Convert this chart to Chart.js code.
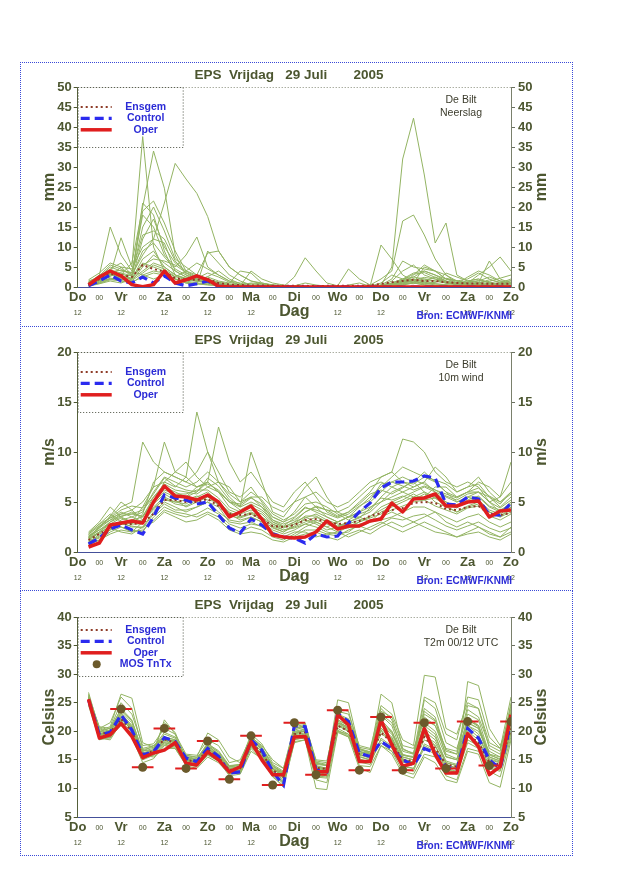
<!DOCTYPE html>
<html>
<head>
<meta charset="utf-8">
<title>EPS De Bilt</title>
<script src="https://cdn.jsdelivr.net/npm/chart.js@4.4.1/dist/chart.umd.min.js"></script>
<style>
    body { margin: 0; background: #fff; width: 640px; height: 880px; position: relative; overflow: hidden; }
    .frame { position: absolute; left: 20px; width: 553px; box-sizing: border-box; border: 1px dotted #3a4ad8; }
    .panel { position: absolute; left: 20px; width: 553px; height: 264px; }
</style>
</head>
<body>
<div class="frame" style="top:62px;height:265px"></div>
<div class="frame" style="top:326px;height:265px"></div>
<div class="frame" style="top:590px;height:266px"></div>
<div class="panel" style="top:62px"><canvas id="rain"></canvas></div>
<div class="panel" style="top:327px"><canvas id="wind"></canvas></div>
<div class="panel" style="top:592px"><canvas id="temp"></canvas></div>
<script>
"use strict";

// time axis in 12h units from Do 12 UTC (6-hourly values)
const steps = [0.5, 1, 1.5, 2, 2.5, 3, 3.5, 4, 4.5, 5, 5.5, 6, 6.5, 7, 7.5, 8, 8.5, 9, 9.5, 10,
    10.5, 11, 11.5, 12, 12.5, 13, 13.5, 14, 14.5, 15, 15.5, 16, 16.5, 17, 17.5, 18, 18.5, 19, 19.5, 20];
const dayNames = ["Do", "Vr", "Za", "Zo", "Ma", "Di", "Wo", "Do", "Vr", "Za", "Zo"];

// Neerslag (mm)
const rainOper = [0.5, 2.5, 4.0, 2.8, 0.6, 0.1, 0.6, 4.0, 1.0, 1.8, 2.8, 1.8, 0.2, 0, 0, 0, 0, 0, 0, 0,
    0, 0, 0, 0, 0, 0, 0, 0, 0, 0, 0, 0, 0, 0, 0, 0, 0, 0, 0, 0];
const rainControl = [0.3, 1.5, 3.0, 1.5, 1.0, 2.5, 1.0, 2.8, 1.0, 0.3, 0.8, 1.5, 0.2, 0, 0, 0, 0, 0, 0, 0,
    0, 0, 0, 0, 0, 0, 0, 0, 0, 0, 0, 0, 0, 0, 0, 0, 0, 0, 0, 0];
const rainMean = [0.8, 2.0, 3.3, 3.0, 2.5, 5.5, 4.5, 3.8, 2.2, 1.8, 1.8, 2.0, 1.0, 0.6, 0.5, 0.4, 0.4, 0.3, 0.3, 0.3,
    0.3, 0.2, 0.3, 0.3, 0.3, 0.3, 0.4, 0.8, 1.2, 1.5, 1.8, 1.5, 1.5, 1.2, 1.0, 0.9, 0.9, 0.8, 0.8, 0.8];
const rainMembers = [
    [1.0, 3.0, 15.0, 8.0, 4.0, 3.0, 2.0, 3.0, 2.0, 1.5, 1.0, 0.8, 0.5, 0.3, 0.2, 0.3, 0.5, 0.3, 0.2, 0.1, 0, 0, 0, 0, 0, 0.1, 0.2, 0.5, 5.0, 32.0, 42.2, 28.0, 11.0, 16.0, 3.0, 1.5, 1.0, 0.5, 0.8, 1.0],
    [0.5, 1.5, 3.0, 12.3, 5.0, 37.6, 10.0, 4.0, 2.0, 1.0, 0.8, 0.5, 0.3, 0.2, 0.1, 0.1, 0, 0, 0, 0, 0, 0.1, 0.2, 0.1, 0, 0, 0.5, 2.0, 4.0, 16.5, 18.0, 13.0, 7.0, 3.0, 1.5, 0.8, 0.5, 0.3, 0.2, 0.3],
    [0.8, 2.0, 4.0, 3.0, 6.0, 20.0, 34.0, 24.7, 8.0, 3.0, 1.5, 1.0, 0.5, 0.3, 0.5, 1.0, 0.8, 0.3, 0.1, 0, 0, 0, 0, 0, 0, 0, 0, 0.3, 0.8, 1.5, 2.5, 4.0, 3.0, 2.0, 1.5, 2.0, 3.5, 2.0, 1.0, 2.0],
    [0.3, 1.0, 2.0, 2.5, 3.0, 8.0, 12.0, 21.0, 30.9, 27.0, 23.4, 17.6, 9.0, 5.0, 3.0, 1.5, 0.8, 0.5, 0.3, 0.2, 0.1, 0, 0, 0, 0, 0, 0, 0.2, 0.5, 1.0, 1.5, 1.0, 0.8, 0.5, 0.3, 0.5, 0.8, 0.5, 0.3, 0.5],
    [1.5, 2.5, 5.0, 4.0, 3.5, 18.0, 15.0, 8.0, 5.0, 8.0, 12.5, 5.0, 3.0, 1.5, 1.0, 0.8, 0.5, 0.2, 0.1, 0, 0, 0, 0, 0, 0, 0, 0.2, 1.0, 3.0, 2.0, 1.0, 5.0, 4.0, 3.0, 1.0, 0.5, 1.0, 6.5, 2.0, 1.0],
    [0.2, 0.8, 1.5, 1.0, 2.0, 12.0, 17.0, 10.0, 6.0, 4.0, 3.0, 8.5, 9.0, 5.0, 3.0, 1.5, 1.0, 0.5, 0.3, 0.2, 0.1, 0, 0, 0, 0, 0, 0, 0.1, 0.3, 0.5, 1.0, 0.5, 0.3, 0.2, 0.5, 1.0, 3.0, 5.0, 7.5, 4.0],
    [1.2, 2.2, 3.5, 2.0, 1.5, 5.0, 8.0, 6.0, 4.0, 2.5, 2.0, 2.5, 1.5, 1.0, 4.0, 3.5, 1.0, 0.5, 0.3, 0.2, 0.1, 0, 0, 0, 0, 0, 0.3, 10.5, 7.0, 3.0, 1.5, 2.0, 1.5, 1.0, 0.8, 2.5, 4.0, 3.0, 1.5, 1.5],
    [0.6, 1.8, 2.5, 5.0, 2.5, 21.0, 18.0, 9.0, 3.0, 2.0, 1.5, 1.0, 0.8, 0.5, 0.3, 0.2, 0.1, 0, 0, 0, 0, 0, 0, 0, 0, 0, 0, 0.5, 2.0, 6.5, 5.0, 4.5, 4.0, 2.0, 1.0, 0.5, 0.3, 0.5, 1.0, 0.5],
    [0.4, 1.2, 2.8, 3.5, 2.0, 6.0, 5.0, 4.0, 2.5, 4.0, 6.0, 4.5, 3.0, 1.5, 0.5, 0.2, 0.1, 0, 0, 0.3, 1.0, 0.5, 0.2, 0, 0.5, 1.0, 0.2, 0, 0.2, 0.5, 3.0, 5.5, 4.0, 2.0, 1.5, 1.0, 1.5, 2.5, 1.5, 0.8],
    [0.9, 2.5, 4.5, 6.0, 3.0, 15.0, 20.0, 14.0, 7.0, 5.0, 3.0, 2.0, 1.0, 0.5, 0.3, 4.0, 2.0, 1.0, 0.5, 0.2, 0.1, 0, 0, 0, 0, 0, 0, 0.2, 0.5, 1.0, 0.8, 1.5, 2.5, 1.5, 0.5, 0.3, 0.2, 0.3, 0.5, 0.3],
    [0.5, 1.5, 2.0, 1.5, 1.0, 3.0, 4.0, 3.5, 2.0, 1.0, 0.5, 9.0, 6.0, 3.0, 1.5, 0.5, 0.3, 0.2, 0.1, 2.5, 7.3, 4.0, 1.0, 0.3, 0, 0, 0, 0.3, 0.8, 1.2, 2.0, 1.5, 1.0, 3.5, 2.5, 1.5, 2.0, 1.0, 0.5, 1.0],
    [1.8, 3.5, 6.0, 5.0, 4.5, 10.0, 12.0, 11.0, 4.0, 2.5, 2.0, 1.5, 1.0, 0.5, 0.3, 0.2, 0, 0, 0, 0, 0, 0, 0, 0.3, 4.5, 2.0, 0.5, 0.2, 1.0, 2.0, 3.5, 4.0, 3.0, 1.5, 1.0, 1.5, 2.0, 1.0, 0.5, 0.8],
    [0.7, 1.6, 3.2, 2.5, 2.0, 7.0, 9.0, 5.0, 3.0, 2.0, 1.8, 1.2, 0.5, 0.2, 0.1, 0, 0, 0, 0, 0, 0, 0, 0, 0, 0, 0, 0.1, 0.3, 1.5, 4.0, 5.5, 3.0, 2.0, 1.0, 0.5, 0.3, 0.5, 0.8, 0.3, 0.2],
    [1.1, 2.8, 5.5, 4.5, 3.0, 19.0, 21.5, 16.0, 9.0, 4.0, 2.5, 2.0, 1.2, 0.8, 0.5, 0.3, 0.2, 0.1, 0, 0, 0, 0, 0, 0, 0, 0, 0, 0.1, 0.5, 1.0, 1.5, 1.0, 0.5, 0.3, 0.2, 0.1, 0.5, 1.0, 0.5, 0.3],
    [0.6, 1.8, 3.0, 2.5, 2.0, 4.0, 6.0, 5.0, 3.0, 2.2, 1.6, 1.2, 0.8, 0.4, 0.2, 0.1, 0, 0, 0, 0, 0, 0, 0, 0, 0, 0, 0.1, 0.4, 1.0, 2.0, 2.5, 2.0, 1.5, 1.0, 0.8, 1.2, 1.6, 1.2, 0.8, 1.0],
    [1.3, 2.6, 4.2, 3.5, 2.8, 9.0, 11.0, 7.5, 4.5, 3.0, 2.2, 3.5, 2.5, 1.2, 0.6, 0.4, 0.2, 0.1, 0, 0, 0, 0, 0, 0, 0, 0, 0, 0.2, 0.6, 1.2, 1.8, 2.4, 2.0, 1.4, 1.0, 0.8, 1.0, 1.8, 1.2, 0.8],
    [0.4, 1.2, 2.2, 2.0, 1.6, 3.5, 5.5, 4.5, 2.6, 1.8, 1.4, 2.6, 4.0, 2.0, 0.8, 0.3, 0.1, 0, 0, 0, 0, 0, 0, 0, 0, 0, 0, 0.1, 0.3, 0.8, 1.2, 0.8, 1.2, 2.2, 1.6, 0.8, 0.6, 0.4, 0.6, 1.6],
    [1.0, 2.2, 3.8, 4.2, 3.6, 13.0, 14.0, 12.0, 6.5, 3.5, 2.0, 1.4, 0.8, 0.4, 0.2, 0.1, 0, 0, 0, 0, 0, 0, 0, 0, 0, 0, 0, 0, 0.4, 1.8, 3.2, 3.6, 2.4, 1.2, 0.6, 0.4, 0.6, 0.8, 0.4, 0.2],
    [0.8, 2.0, 3.4, 2.8, 2.2, 5.5, 7.0, 6.5, 5.5, 3.6, 2.4, 1.8, 1.0, 0.6, 0.4, 0.2, 0.1, 0, 0, 0, 0, 0, 0, 0, 0, 0, 0, 0.2, 0.8, 1.6, 2.0, 1.2, 0.8, 0.6, 0.4, 0.6, 1.0, 1.4, 2.2, 3.0],
    [0.3, 0.9, 1.8, 1.6, 1.2, 2.5, 3.5, 3.0, 2.0, 1.2, 0.8, 0.6, 0.4, 0.2, 0.1, 0, 0, 0, 0, 0, 0, 0, 0, 0, 0, 0, 0, 0, 0.2, 0.6, 1.0, 0.6, 0.4, 0.3, 0.2, 0.3, 0.4, 0.3, 0.2, 0.3]
];

// 10m wind (m/s)
const windOper = [0.5, 0.9, 2.7, 2.9, 3.1, 2.9, 5.0, 6.6, 5.6, 5.5, 5.2, 5.7, 5.0, 3.5, 4.0, 4.6, 3.3, 1.7, 1.5, 1.4,
    1.5, 2.0, 3.1, 2.3, 2.6, 2.6, 3.1, 3.3, 4.9, 4.0, 5.3, 5.4, 5.8, 4.6, 4.6, 5.0, 5.1, 3.5, 4.1, 4.2];
const windControl = [0.8, 1.4, 2.3, 2.7, 2.2, 1.8, 3.5, 5.7, 5.4, 5.2, 4.8, 5.0, 3.7, 2.4, 1.9, 3.3, 2.7, 1.8, 1.5, 1.4,
    0.9, 1.8, 1.5, 1.6, 2.9, 4.0, 4.9, 6.4, 7.0, 7.0, 7.1, 7.6, 7.4, 4.8, 4.7, 5.5, 5.3, 3.7, 3.7, 4.9];
const windMean = [1.2, 1.8, 2.4, 2.8, 2.8, 2.9, 3.8, 5.2, 5.2, 5.0, 5.0, 5.3, 4.6, 3.8, 3.7, 3.8, 3.3, 2.6, 2.5, 2.7,
    3.2, 3.3, 3.0, 2.8, 2.9, 3.1, 3.6, 3.9, 4.2, 4.4, 4.9, 5.0, 4.9, 4.3, 4.2, 4.5, 4.6, 3.8, 3.7, 3.9];
const windMembers = [
    [1.5, 2.5, 3.5, 4.5, 5.0, 11.0, 9.0, 8.0, 7.5, 7.0, 8.0, 10.0, 8.0, 6.0, 5.5, 6.5, 5.0, 3.5, 3.0, 4.0, 5.5, 6.0, 5.0, 4.5, 5.0, 6.0, 7.0, 7.5, 8.0, 11.3, 11.0, 10.0, 8.0, 7.0, 6.5, 7.0, 6.5, 5.0, 5.5, 7.0],
    [0.8, 1.2, 2.0, 2.5, 2.0, 3.0, 5.0, 7.0, 6.5, 7.5, 14.0, 10.0, 7.0, 6.5, 5.0, 5.5, 4.5, 3.0, 2.5, 3.0, 3.5, 3.0, 2.5, 3.0, 3.5, 4.0, 4.5, 5.0, 6.0, 6.5, 7.0, 6.0, 5.5, 5.0, 4.5, 5.5, 5.0, 4.0, 3.5, 4.5],
    [2.0, 3.0, 4.5, 3.5, 3.0, 4.5, 6.5, 11.0, 8.0, 7.5, 6.5, 7.0, 12.5, 9.0, 7.0, 8.0, 6.5, 5.0, 4.5, 6.0, 7.0, 5.5, 4.0, 3.5, 4.0, 5.0, 6.0, 7.5, 8.0, 7.0, 6.5, 7.0, 8.5, 7.5, 6.0, 6.5, 7.5, 6.0, 5.0, 6.0],
    [1.0, 1.5, 2.5, 3.0, 2.5, 2.5, 4.0, 5.0, 4.5, 4.0, 4.5, 5.0, 4.5, 3.0, 2.8, 3.0, 2.5, 2.0, 1.5, 2.0, 2.0, 1.5, 1.8, 2.0, 2.5, 2.5, 3.0, 3.5, 4.0, 3.5, 3.0, 3.5, 4.0, 3.0, 2.5, 3.0, 2.5, 2.0, 1.5, 2.0],
    [1.2, 2.0, 3.0, 3.5, 4.0, 3.5, 5.5, 6.5, 6.0, 5.5, 6.0, 7.0, 6.0, 5.0, 4.5, 10.0, 7.0, 4.0, 3.5, 5.0, 6.5, 7.5, 5.5, 4.0, 3.5, 4.5, 5.5, 6.5, 7.5, 8.5, 8.0, 7.5, 7.0, 6.0, 5.5, 6.0, 7.0, 6.5, 5.5, 9.0],
    [1.6, 2.2, 2.8, 2.5, 2.2, 2.0, 3.5, 4.5, 4.0, 3.8, 3.5, 4.0, 3.5, 2.5, 2.0, 2.5, 2.2, 1.5, 1.2, 1.8, 2.5, 3.0, 2.5, 2.0, 1.5, 2.0, 2.5, 3.0, 2.5, 2.0, 2.5, 3.0, 2.5, 2.0, 1.5, 2.0, 2.5, 1.8, 1.5, 2.5],
    [0.9, 1.8, 2.2, 3.2, 3.5, 3.0, 4.5, 5.5, 5.0, 4.8, 5.5, 6.0, 5.0, 4.0, 3.5, 4.0, 3.5, 2.8, 2.2, 2.5, 3.0, 3.5, 3.0, 2.5, 3.0, 3.5, 3.0, 4.0, 4.5, 5.0, 5.5, 6.0, 5.0, 4.5, 4.0, 4.5, 4.8, 4.0, 3.5, 4.0],
    [1.8, 2.6, 3.2, 4.0, 3.5, 4.0, 6.0, 7.5, 7.0, 6.5, 7.0, 8.0, 7.0, 5.5, 4.5, 5.0, 4.5, 3.5, 3.0, 3.5, 4.5, 4.0, 3.5, 3.0, 3.5, 4.0, 5.0, 6.0, 7.0, 7.5, 7.0, 8.0, 7.0, 6.0, 5.0, 5.5, 6.0, 5.0, 4.0, 5.0],
    [1.4, 2.0, 2.4, 2.0, 1.8, 2.5, 3.0, 4.0, 3.5, 3.0, 3.2, 3.8, 3.2, 2.2, 1.8, 2.0, 1.8, 1.2, 1.0, 1.5, 1.8, 2.0, 1.5, 1.2, 1.8, 2.2, 1.8, 2.5, 3.0, 2.5, 3.0, 2.5, 2.0, 1.8, 1.5, 1.8, 2.0, 1.5, 1.2, 1.8],
    [1.1, 1.6, 2.6, 3.0, 3.2, 3.5, 5.0, 6.0, 5.5, 5.5, 6.5, 7.0, 6.0, 4.5, 4.0, 4.5, 4.0, 3.0, 2.5, 3.0, 4.0, 4.5, 3.5, 3.0, 3.5, 3.5, 4.0, 5.0, 5.5, 6.0, 6.5, 7.0, 6.0, 5.5, 5.0, 5.5, 5.5, 4.5, 4.0, 5.0],
    [1.3, 2.4, 3.6, 5.0, 4.2, 3.2, 4.8, 5.8, 5.2, 4.5, 5.0, 5.5, 4.8, 3.8, 3.2, 3.5, 3.0, 2.5, 2.0, 2.8, 3.2, 2.8, 2.2, 2.5, 2.8, 3.2, 3.5, 4.5, 5.0, 5.5, 6.0, 6.5, 6.0, 5.0, 4.5, 5.0, 5.2, 4.2, 3.8, 4.5],
    [1.7, 2.8, 3.8, 3.0, 2.8, 3.8, 7.0, 8.0, 7.5, 7.0, 6.5, 6.8, 6.2, 5.0, 4.8, 5.5, 5.5, 4.5, 4.0, 5.0, 5.5, 4.5, 4.2, 4.0, 4.5, 5.5, 6.5, 7.0, 6.5, 6.0, 5.5, 5.5, 6.5, 6.5, 5.5, 6.0, 6.0, 5.5, 4.5, 5.5],
    [1.0, 1.4, 2.2, 2.8, 2.6, 2.4, 3.8, 4.8, 4.2, 4.2, 4.5, 5.0, 4.0, 3.2, 3.0, 3.5, 3.0, 2.2, 1.8, 2.2, 2.8, 2.5, 2.0, 1.8, 2.0, 2.8, 3.0, 3.2, 3.5, 4.0, 4.5, 4.5, 4.0, 3.5, 3.0, 3.5, 3.8, 3.0, 2.5, 3.0],
    [1.5, 2.2, 3.0, 3.8, 3.8, 4.2, 5.5, 6.8, 6.2, 6.0, 5.8, 6.5, 7.0, 5.8, 5.0, 6.0, 5.2, 3.8, 3.2, 3.8, 4.8, 5.0, 4.5, 3.8, 3.2, 3.8, 4.2, 5.5, 6.5, 7.0, 6.8, 7.5, 7.2, 6.8, 6.0, 6.5, 6.8, 5.5, 4.8, 6.0],
    [1.3, 2.0, 2.8, 3.4, 3.0, 3.2, 4.2, 5.4, 4.8, 4.6, 5.2, 5.8, 4.6, 3.6, 3.4, 3.8, 3.2, 2.4, 2.0, 2.6, 3.4, 3.8, 3.2, 2.8, 2.6, 3.0, 3.6, 4.2, 4.8, 5.2, 5.8, 5.2, 4.6, 4.2, 3.8, 4.4, 4.6, 3.6, 3.2, 3.8],
    [1.9, 2.8, 3.4, 3.8, 4.2, 5.0, 6.5, 7.0, 8.0, 9.0, 7.5, 6.5, 6.0, 5.0, 4.2, 4.8, 4.2, 3.2, 2.8, 3.2, 4.0, 4.6, 4.2, 3.6, 4.0, 4.8, 5.8, 6.2, 5.8, 6.4, 7.2, 6.8, 6.2, 5.8, 5.4, 6.0, 6.4, 5.6, 5.0, 5.8],
    [0.7, 1.2, 1.8, 2.2, 2.0, 2.2, 3.2, 4.2, 3.8, 3.5, 3.8, 4.4, 3.8, 2.8, 2.4, 2.8, 2.6, 1.8, 1.4, 1.6, 2.2, 2.2, 1.8, 1.6, 2.2, 2.6, 2.2, 2.8, 3.4, 3.2, 3.6, 3.8, 3.2, 2.6, 2.2, 2.6, 3.0, 2.4, 2.0, 2.4],
    [1.6, 2.4, 3.2, 3.6, 3.8, 3.6, 5.2, 6.2, 5.8, 5.8, 6.2, 6.2, 5.4, 4.2, 3.8, 4.2, 3.8, 2.8, 2.4, 2.8, 3.6, 3.6, 3.0, 2.6, 3.0, 3.4, 4.4, 5.4, 5.2, 5.6, 5.2, 5.8, 5.4, 4.8, 4.4, 5.2, 5.6, 4.6, 4.2, 4.8],
    [1.2, 1.9, 2.6, 3.0, 2.8, 2.8, 4.4, 5.2, 5.0, 5.2, 5.6, 5.2, 5.0, 3.9, 3.5, 3.9, 3.4, 2.6, 2.2, 2.4, 2.8, 3.2, 2.8, 2.4, 2.4, 3.0, 3.4, 3.8, 4.2, 4.6, 5.0, 5.2, 5.4, 4.6, 4.0, 4.6, 5.0, 4.0, 3.6, 4.2],
    [1.4, 2.6, 3.4, 4.2, 4.6, 4.4, 5.8, 7.4, 6.6, 6.2, 6.0, 7.4, 6.6, 5.2, 4.6, 5.4, 4.8, 3.2, 2.6, 3.4, 4.4, 4.2, 3.8, 3.4, 3.8, 4.6, 5.2, 6.8, 7.0, 6.6, 6.2, 6.6, 6.2, 5.6, 5.2, 5.8, 6.0, 5.0, 4.4, 5.2]
];

// T2m (Celsius)
const tempOper = [25.6, 18.8, 19.4, 21.4, 19.1, 15.4, 16.2, 16.7, 18.0, 14.4, 14.1, 16.4, 15.0, 12.9, 13.8, 18.2, 15.0, 12.4, 12.4, 19.0,
    19.1, 12.9, 12.9, 22.9, 21.1, 14.7, 14.7, 22.0, 17.6, 13.9, 14.4, 20.5, 15.9, 12.7, 12.7, 19.6, 17.3, 12.4, 13.8, 22.9];
const tempControl = [25.5, 19.4, 19.8, 22.9, 20.2, 15.9, 16.4, 18.9, 18.2, 15.3, 14.7, 17.0, 15.6, 12.7, 12.9, 18.5, 16.7, 12.9, 10.6, 21.0,
    20.8, 13.2, 12.9, 23.1, 21.7, 16.2, 15.6, 18.2, 17.0, 15.0, 14.1, 17.0, 16.2, 13.8, 13.2, 20.5, 18.8, 15.0, 13.5, 21.7];
const tempMean = [25.6, 19.6, 19.8, 22.2, 20.0, 15.8, 16.6, 18.6, 18.0, 15.0, 14.6, 16.8, 15.4, 13.2, 13.5, 18.0, 16.2, 13.2, 12.0, 19.5,
    19.8, 13.6, 13.4, 21.0, 20.0, 16.0, 15.6, 19.8, 18.0, 15.0, 14.8, 19.0, 17.0, 14.2, 13.8, 19.5, 18.0, 14.6, 14.2, 20.5];
const tempMembers = [
    [26.8, 20.2, 20.8, 26.5, 25.8, 18.0, 17.2, 19.0, 18.5, 15.5, 15.0, 17.5, 16.0, 13.8, 14.0, 18.6, 17.0, 14.0, 12.8, 20.5, 21.0, 14.2, 14.0, 23.5, 23.0, 17.5, 17.0, 24.5, 23.0, 18.5, 17.5, 29.8, 29.5, 20.5, 19.5, 25.0, 24.0, 17.0, 16.0, 21.0],
    [25.0, 19.0, 19.2, 21.0, 19.5, 15.2, 16.0, 22.0, 19.5, 14.5, 14.2, 16.0, 15.0, 13.0, 13.2, 17.5, 15.8, 12.8, 11.0, 18.5, 19.0, 12.5, 12.2, 20.0, 19.0, 15.0, 14.8, 18.0, 16.5, 13.8, 13.5, 17.0, 16.0, 13.2, 12.8, 28.7, 28.0, 20.5, 17.5, 22.0],
    [26.0, 20.5, 21.5, 26.0, 24.0, 17.0, 17.5, 18.5, 17.5, 15.8, 15.5, 19.7, 18.5, 15.5, 14.5, 19.5, 17.8, 14.5, 13.5, 21.0, 21.5, 14.5, 14.0, 25.5, 25.0, 17.0, 16.0, 26.5, 25.0, 17.0, 16.0, 24.0, 22.5, 16.5, 16.0, 22.0, 21.0, 16.0, 15.0, 24.0],
    [24.5, 18.5, 19.0, 21.5, 19.0, 14.5, 15.2, 17.5, 17.0, 14.0, 13.5, 15.5, 14.5, 12.5, 12.8, 17.0, 15.0, 12.0, 10.5, 18.0, 18.5, 11.5, 11.0, 20.0, 19.5, 14.0, 13.8, 17.5, 16.5, 13.0, 12.5, 16.0, 15.5, 12.2, 11.5, 17.0, 16.5, 13.0, 12.0, 19.0],
    [25.5, 19.5, 20.0, 23.5, 21.5, 16.5, 17.0, 19.0, 18.5, 15.2, 14.8, 17.5, 16.0, 13.5, 13.8, 18.5, 16.8, 13.5, 12.0, 19.8, 20.0, 13.0, 12.8, 21.5, 20.5, 15.5, 15.0, 20.5, 19.0, 15.0, 14.5, 20.0, 18.5, 14.5, 14.0, 21.0, 19.5, 15.0, 14.5, 21.5],
    [25.8, 20.0, 19.5, 22.0, 20.5, 16.0, 16.5, 18.0, 17.5, 14.8, 14.5, 17.0, 15.8, 13.2, 13.0, 18.0, 16.5, 13.0, 11.5, 19.5, 20.5, 14.0, 13.5, 22.5, 21.5, 16.5, 16.0, 22.0, 20.0, 15.5, 15.0, 25.5, 24.0, 18.0, 17.0, 23.0, 22.0, 16.0, 15.5, 25.0],
    [25.2, 19.2, 19.5, 22.5, 20.0, 15.5, 16.2, 18.5, 18.2, 14.5, 14.0, 16.5, 15.2, 12.8, 13.2, 17.8, 16.0, 12.8, 11.2, 19.0, 19.2, 12.8, 12.5, 21.0, 20.0, 15.8, 15.5, 19.5, 18.5, 14.8, 14.2, 19.5, 17.5, 13.5, 13.0, 19.0, 18.0, 14.0, 13.5, 20.0],
    [26.2, 19.8, 20.2, 24.0, 22.0, 16.2, 16.8, 19.5, 18.8, 15.5, 15.0, 18.0, 16.2, 13.8, 14.0, 18.8, 17.0, 14.0, 12.5, 20.2, 20.8, 13.8, 13.5, 22.0, 21.0, 16.2, 16.5, 23.5, 22.5, 17.5, 17.0, 22.0, 21.0, 17.0, 16.5, 24.5, 24.0, 18.0, 17.0, 23.0],
    [25.4, 18.8, 18.5, 21.5, 19.5, 15.0, 16.5, 18.8, 18.2, 15.2, 14.8, 16.2, 15.0, 12.5, 12.8, 17.2, 15.5, 12.5, 10.8, 18.8, 19.0, 12.0, 11.8, 20.5, 19.5, 15.2, 14.5, 18.5, 17.0, 14.0, 13.5, 17.5, 16.5, 13.0, 12.5, 18.0, 17.0, 13.5, 13.0, 19.5],
    [25.9, 20.8, 20.5, 25.0, 23.0, 17.5, 17.8, 20.5, 19.5, 16.0, 15.8, 18.5, 17.5, 14.5, 15.0, 19.0, 17.5, 15.0, 13.5, 20.5, 21.0, 14.8, 14.5, 24.0, 23.5, 16.8, 16.2, 24.0, 22.0, 16.5, 16.0, 26.0, 25.0, 19.5, 18.5, 26.0, 25.5, 19.0, 17.0, 26.0],
    [24.8, 19.0, 18.8, 22.0, 20.5, 15.8, 15.5, 17.0, 17.0, 14.2, 13.8, 15.8, 14.8, 12.2, 12.5, 16.5, 15.2, 12.2, 10.2, 18.2, 18.5, 10.0, 9.8, 19.8, 19.0, 13.5, 12.8, 17.5, 16.0, 12.5, 11.8, 15.5, 14.5, 11.5, 11.0, 16.5, 16.0, 11.0, 10.2, 18.5],
    [26.3, 20.0, 20.5, 23.0, 21.0, 16.5, 17.5, 19.0, 18.0, 15.0, 14.8, 17.2, 15.8, 13.5, 13.8, 18.2, 16.5, 13.5, 12.5, 19.5, 20.0, 13.5, 13.2, 21.5, 20.8, 16.5, 16.0, 21.0, 19.5, 15.5, 15.0, 21.5, 20.0, 15.5, 15.0, 22.5, 21.0, 15.5, 14.8, 22.0],
    [25.6, 19.5, 20.0, 22.8, 20.5, 16.0, 16.0, 18.2, 17.8, 15.0, 14.5, 17.0, 15.5, 13.0, 13.5, 18.0, 16.0, 13.0, 12.0, 19.2, 19.5, 13.2, 13.0, 21.0, 20.0, 16.0, 15.2, 20.0, 18.2, 15.0, 14.5, 18.5, 17.5, 14.0, 13.5, 20.0, 18.5, 14.5, 14.0, 20.5],
    [25.7, 19.6, 19.2, 21.8, 19.8, 15.6, 16.8, 21.5, 19.8, 15.2, 14.5, 16.5, 15.5, 13.4, 13.6, 18.4, 16.4, 13.4, 12.2, 19.6, 20.2, 13.6, 13.4, 21.2, 20.2, 16.2, 15.8, 20.2, 18.8, 15.2, 14.6, 19.2, 18.0, 14.5, 14.0, 21.0, 20.0, 16.5, 15.5, 21.0],
    [25.3, 19.3, 20.3, 23.2, 21.0, 16.3, 16.0, 18.0, 17.6, 14.6, 14.3, 16.8, 15.6, 13.6, 13.4, 17.6, 16.2, 13.6, 12.6, 20.0, 20.4, 14.4, 14.0, 22.0, 21.0, 17.0, 16.4, 21.5, 20.0, 16.0, 15.4, 22.5, 21.0, 16.0, 15.2, 20.5, 19.0, 15.2, 14.6, 23.5],
    [26.5, 20.6, 19.9, 22.6, 20.8, 16.8, 17.2, 19.8, 19.0, 15.6, 15.2, 17.8, 16.6, 14.0, 14.2, 19.2, 17.2, 14.2, 13.0, 20.8, 21.2, 15.0, 14.8, 23.0, 22.2, 17.2, 16.8, 23.0, 21.5, 16.8, 16.2, 23.0, 21.8, 16.8, 16.0, 23.8, 22.5, 17.5, 16.5, 24.5],
    [25.1, 18.6, 18.9, 21.2, 19.2, 15.0, 15.8, 17.8, 17.2, 14.4, 13.9, 16.0, 14.8, 12.6, 12.6, 17.4, 15.6, 12.6, 11.0, 18.6, 18.8, 12.2, 12.0, 20.2, 19.2, 14.6, 14.2, 18.8, 17.4, 13.6, 13.0, 17.8, 16.8, 13.4, 12.8, 18.5, 17.5, 13.8, 13.2, 19.8],
    [26.0, 19.9, 20.6, 23.8, 21.8, 16.6, 16.6, 18.4, 18.4, 15.8, 15.4, 17.6, 16.4, 13.9, 14.2, 19.0, 17.2, 13.8, 12.8, 20.6, 20.6, 13.8, 13.6, 22.8, 22.0, 16.8, 16.4, 22.8, 21.0, 15.8, 15.6, 23.5, 22.0, 15.6, 15.0, 21.5, 20.5, 15.8, 15.2, 22.5],
    [25.5, 19.4, 19.6, 22.2, 20.2, 15.6, 16.4, 18.6, 17.9, 14.9, 14.6, 16.6, 15.2, 13.1, 13.3, 17.9, 16.1, 13.1, 11.8, 19.4, 19.7, 13.4, 13.1, 21.4, 20.4, 16.0, 15.4, 20.6, 18.6, 14.6, 14.2, 20.5, 19.0, 14.8, 14.2, 21.5, 20.5, 15.5, 14.8, 21.8],
    [24.9, 18.9, 19.4, 22.4, 20.6, 15.9, 15.7, 17.6, 17.4, 15.4, 15.0, 17.4, 15.9, 13.3, 13.0, 17.6, 15.8, 13.3, 12.4, 19.9, 20.0, 14.6, 14.2, 21.8, 20.6, 15.6, 15.0, 21.2, 19.8, 15.8, 15.4, 21.0, 19.5, 14.2, 13.6, 22.0, 20.8, 14.8, 13.8, 20.8]
];
const mosSteps = [2, 3, 4, 5, 6, 7, 8, 9, 10, 11, 12, 13, 14, 15, 16, 17, 18, 19, 20];
const mosTemp = [23.9, 13.7, 20.5, 13.5, 18.3, 11.6, 19.2, 10.6, 21.5, 12.4, 23.7, 13.2, 22.5, 13.2, 21.5, 13.5, 21.7, 14.0, 21.7];

// styles
const fontFamily = "'Liberation Sans', Arial, Helvetica, sans-serif";
const textColor = "#4c5630";
const memberColor = "#93b463";
const meanColor = "#8e3b26";
const controlColor = "#2b2bef";
const operColor = "#e01e1e";
const mosColor = "#6b5a2b";
const legendTextColor = "#2b2bd6";

const legendLines = [
    { label: "Ensgem", color: meanColor, width: 2, dash: [2, 3] },
    { label: "Control", color: controlColor, width: 3.2, dash: [9, 5] },
    { label: "Oper", color: operColor, width: 3.5, dash: [] }
];

function toPoints(values) {
    return values.map(function (v, i) {
        return { x: steps[i], y: v };
    });
}

// extra texts and legend box inside the plot
const panelDecor = {
    id: "panelDecor",
    afterDraw: function (chart, args, opts) {
        const ctx = chart.ctx;
        const a = chart.chartArea;
        ctx.save();

        // dotted top edge of the plot
        ctx.strokeStyle = "#858a78";
        ctx.lineWidth = 1;
        ctx.setLineDash([1, 2]);
        ctx.beginPath();
        ctx.moveTo(a.left, a.top + 0.5);
        ctx.lineTo(a.right, a.top + 0.5);
        ctx.stroke();

        // legend box
        ctx.strokeStyle = "#4a4f40";
        ctx.strokeRect(a.left + 0.5, a.top + 0.5, 105, opts.legendHeight);

        const items = opts.mos ? legendLines.concat([{ label: "MOS TnTx", marker: true }]) : legendLines;
        ctx.textAlign = "center";
        ctx.textBaseline = "middle";
        ctx.font = "bold 10.5px " + fontFamily;
        items.forEach(function (item, k) {
            const y = a.top + opts.legendTop + k * 11.4;
            if (item.marker) {
                ctx.fillStyle = mosColor;
                ctx.beginPath();
                ctx.arc(a.left + 19, y, 4, 0, Math.PI * 2);
                ctx.fill();
            } else {
                ctx.strokeStyle = item.color;
                ctx.lineWidth = item.width;
                ctx.setLineDash(item.dash);
                ctx.beginPath();
                ctx.moveTo(a.left + 3, y);
                ctx.lineTo(a.left + 34, y);
                ctx.stroke();
            }
            ctx.fillStyle = legendTextColor;
            ctx.fillText(item.label, a.left + 68, y);
        });

        // station / parameter
        ctx.fillStyle = "#3c3c2c";
        ctx.font = "10.5px " + fontFamily;
        ctx.fillText("De Bilt", a.right - 50, a.top + 13);
        ctx.fillText(opts.param, a.right - 50, a.top + 26);

        // axis title x and source
        ctx.fillStyle = textColor;
        ctx.font = "bold 16px " + fontFamily;
        ctx.fillText("Dag", (a.left + a.right) / 2, a.bottom + 25);
        ctx.fillStyle = legendTextColor;
        ctx.font = "bold 10px " + fontFamily;
        ctx.textAlign = "right";
        ctx.fillText("Bron: ECMWF/KNMI", a.right + 1, a.bottom + 29);

        // right y title, same reading direction as the left one
        ctx.translate(chart.width - 31, (a.top + a.bottom) / 2);
        ctx.rotate(-Math.PI / 2);
        ctx.textAlign = "center";
        ctx.fillStyle = textColor;
        ctx.font = "bold 16px " + fontFamily;
        ctx.fillText(opts.unit, 0, 0);
        ctx.restore();
    }
};

function ensembleChart(canvasId, members, mean, control, oper, yMin, yMax, unit, param, legendTop, legendHeight, withMos) {
    const datasets = [];
    if (withMos) {
        datasets.push({
            label: "MOS TnTx",
            data: mosSteps.map(function (x, i) { return { x: x, y: mosTemp[i] }; }),
            showLine: false,
            pointRadius: 4.5,
            pointBackgroundColor: mosColor,
            pointBorderWidth: 0
        });
        const bars = [];
        mosSteps.forEach(function (x, i) {
            bars.push({ x: x - 0.5, y: mosTemp[i] }, { x: x + 0.5, y: mosTemp[i] }, { x: x + 0.5, y: null });
        });
        datasets.push({ label: "MOS Tn/Tx", data: bars, borderColor: operColor, borderWidth: 2, pointRadius: 0, spanGaps: false });
    }
    datasets.push({ label: "Oper", data: toPoints(oper), borderColor: operColor, borderWidth: 3.5, pointRadius: 0, borderJoinStyle: "round" });
    datasets.push({ label: "Control", data: toPoints(control), borderColor: controlColor, borderWidth: 3.2, borderDash: [9, 5], pointRadius: 0 });
    datasets.push({ label: "Ensgem", data: toPoints(mean), borderColor: meanColor, borderWidth: 2, borderDash: [2, 3], pointRadius: 0 });
    members.forEach(function (m, k) {
        datasets.push({ label: "Lid " + (k + 1), data: toPoints(m), borderColor: memberColor, borderWidth: 1, pointRadius: 0 });
    });

    const yTicks = { stepSize: 5, color: textColor, font: { family: fontFamily, size: 13, weight: "bold" } };

    return new Chart(document.getElementById(canvasId), {
        type: "line",
        data: { datasets: datasets },
        plugins: [panelDecor],
        options: {
            responsive: true,
            maintainAspectRatio: false,
            animation: false,
            layout: { padding: 0 },
            plugins: {
                legend: { display: false },
                tooltip: { enabled: false },
                title: {
                    display: true,
                    text: "EPS  Vrijdag   29 Juli       2005    ",
                    color: textColor,
                    font: { family: fontFamily, size: 13.5, weight: "bold" },
                    padding: { top: 5, bottom: 3.8 }
                },
                panelDecor: { unit: unit, param: param, legendTop: legendTop, legendHeight: legendHeight, mos: withMos }
            },
            scales: {
                x: {
                    type: "linear",
                    min: 0,
                    max: 20,
                    weight: 0,
                    afterFit: function (s) { s.height = 20; },
                    ticks: {
                        stepSize: 1,
                        autoSkip: false,
                        maxRotation: 0,
                        padding: 3,
                        color: textColor,
                        callback: function (v) { return v % 2 === 0 ? dayNames[v / 2] : "00"; },
                        font: function (c) {
                            if (c.tick && c.tick.value % 2 !== 0) {
                                return { family: fontFamily, size: 7, lineHeight: "15.6px" };
                            }
                            return { family: fontFamily, size: 13, weight: "bold", lineHeight: "15.6px" };
                        }
                    },
                    grid: { display: false, drawTicks: false },
                    border: { display: true, color: "#44509a", dash: [1, 2], width: 1 }
                },
                x2: {
                    type: "linear",
                    position: "bottom",
                    min: 0,
                    max: 20,
                    weight: 1,
                    afterFit: function (s) { s.height = 19; },
                    ticks: {
                        stepSize: 2,
                        autoSkip: false,
                        maxRotation: 0,
                        padding: 2,
                        color: textColor,
                        font: { family: fontFamily, size: 7 },
                        callback: function () { return "12"; }
                    },
                    grid: { display: false, drawTicks: false },
                    border: { display: false }
                },
                y: {
                    min: yMin,
                    max: yMax,
                    afterFit: function (s) { s.width = 57.7; },
                    ticks: Object.assign({ padding: 2 }, yTicks),
                    grid: { drawOnChartArea: false, tickLength: 4, color: textColor },
                    border: { color: "#55603a", width: 1 },
                    title: {
                        display: true,
                        text: unit,
                        color: textColor,
                        font: { family: fontFamily, size: 16, weight: "bold" },
                        padding: { top: 20, bottom: 0 }
                    }
                },
                y2: {
                    position: "right",
                    min: yMin,
                    max: yMax,
                    afterFit: function (s) { s.width = 62; },
                    ticks: Object.assign({ padding: 3 }, yTicks),
                    grid: { drawOnChartArea: false, tickLength: 4, color: "#6a7060" },
                    border: { color: "#7a806c", width: 1 }
                }
            }
        }
    });
}

ensembleChart("rain", rainMembers, rainMean, rainControl, rainOper, 0, 50, "mm", "Neerslag", 20, 60, false);
ensembleChart("wind", windMembers, windMean, windControl, windOper, 0, 20, "m/s", "10m wind", 20, 60, false);
ensembleChart("temp", tempMembers, tempMean, tempControl, tempOper, 5, 40, "Celsius", "T2m 00/12 UTC", 13, 59, true);
</script>
</body>
</html>
